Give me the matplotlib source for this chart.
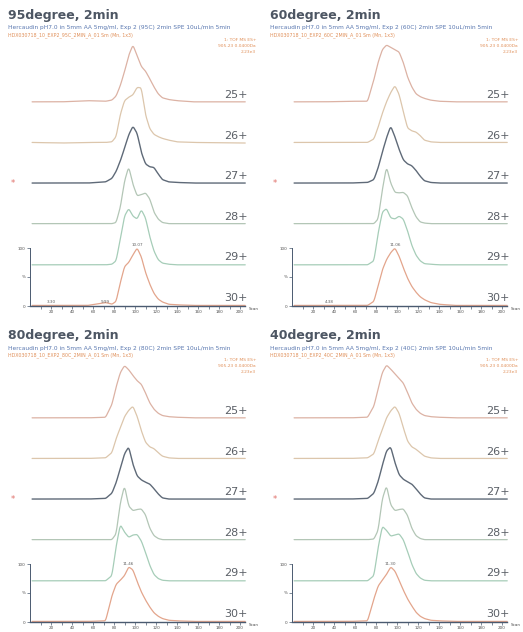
import numpy as np
import matplotlib
matplotlib.use("Agg")
import matplotlib.pyplot as plt

# ---------------- data ----------------
panel_titles = ["95degree, 2min", "60degree, 2min", "80degree, 2min", "40degree, 2min"]
charge_labels = ["25+", "26+", "27+", "28+", "29+", "30+"]
x_ticks = [20, 40, 60, 80, 100, 120, 140, 160, 180, 200]

# common scan grid for the intensity readings (percent of base peak)
scan = [2, 30, 55, 72, 78, 82, 86, 90, 94, 98, 102, 106, 110, 114, 118, 122, 126, 132, 140, 155, 205]

p95_25 = [2, 2, 4, 3, 5, 12, 30, 54, 82, 100, 82, 63, 55, 42, 28, 16, 9, 6, 4, 2, 2]
p95_26 = [2, 1, 2, 2, 3, 12, 50, 74, 80, 84, 97, 96, 50, 26, 16, 12, 9, 6, 3, 2, 1]
p95_27 = [2, 2, 2, 4, 10, 22, 40, 62, 85, 100, 88, 55, 35, 30, 29, 18, 8, 4, 3, 2, 2]
p95_28 = [2, 2, 2, 2, 2, 4, 30, 75, 100, 70, 50, 52, 55, 45, 22, 10, 4, 2, 2, 2, 2]
p95_29 = [1, 1, 1, 1, 2, 8, 45, 85, 98, 85, 80, 96, 82, 50, 25, 10, 4, 2, 1, 1, 1]
p95_30 = [1, 1, 1, 6, 3, 8, 40, 68, 75, 88, 100, 85, 58, 38, 22, 12, 7, 3, 2, 1, 1]

p60_25 = [2, 2, 3, 3, 40, 70, 92, 100, 96, 92, 88, 70, 45, 28, 16, 11, 8, 5, 3, 2, 2]
p60_26 = [2, 2, 2, 2, 8, 28, 52, 72, 88, 100, 85, 55, 27, 22, 20, 14, 6, 3, 2, 2, 2]
p60_27 = [2, 2, 2, 3, 8, 28, 55, 80, 100, 82, 60, 42, 35, 32, 24, 14, 6, 3, 2, 2, 2]
p60_28 = [2, 2, 2, 2, 2, 10, 60, 100, 72, 56, 55, 56, 50, 30, 14, 5, 3, 2, 2, 2, 2]
p60_29 = [1, 1, 1, 1, 8, 55, 92, 98, 82, 80, 85, 80, 60, 35, 18, 8, 3, 2, 1, 1, 1]
p60_30 = [1, 1, 1, 1, 8, 35, 62, 80, 92, 100, 86, 66, 48, 34, 24, 16, 11, 6, 3, 1, 1]

p80_25 = [2, 2, 2, 3, 25, 55, 80, 92, 85, 75, 66, 60, 45, 28, 17, 10, 6, 4, 3, 2, 2]
p80_26 = [2, 2, 2, 3, 12, 36, 55, 74, 85, 92, 75, 50, 30, 22, 19, 12, 6, 3, 2, 2, 2]
p80_27 = [2, 2, 2, 3, 12, 30, 55, 80, 92, 62, 42, 35, 31, 28, 20, 11, 4, 2, 2, 2, 2]
p80_28 = [2, 2, 2, 2, 2, 12, 65, 95, 60, 52, 54, 55, 45, 22, 9, 4, 2, 2, 2, 2, 2]
p80_29 = [1, 1, 1, 1, 10, 60, 98, 85, 76, 80, 81, 70, 50, 28, 12, 5, 2, 1, 1, 1, 1]
p80_30 = [1, 1, 1, 2, 45, 65, 72, 80, 95, 90, 70, 52, 38, 26, 16, 10, 6, 3, 2, 1, 1]

p40_25 = [2, 2, 2, 3, 22, 52, 80, 93, 86, 78, 70, 62, 46, 28, 17, 10, 6, 4, 3, 2, 2]
p40_26 = [2, 2, 2, 3, 10, 32, 52, 72, 84, 92, 80, 55, 32, 22, 18, 12, 6, 3, 2, 2, 2]
p40_27 = [2, 2, 2, 3, 12, 32, 60, 85, 92, 65, 44, 36, 32, 28, 20, 11, 4, 2, 2, 2, 2]
p40_28 = [2, 2, 2, 2, 3, 18, 72, 95, 62, 52, 54, 55, 44, 22, 9, 4, 2, 2, 2, 2, 2]
p40_29 = [1, 1, 1, 1, 10, 58, 95, 88, 78, 80, 82, 72, 52, 30, 14, 6, 2, 1, 1, 1, 1]
p40_30 = [1, 1, 1, 2, 40, 62, 72, 82, 95, 88, 72, 55, 40, 28, 17, 10, 6, 3, 2, 1, 1]

peak_labels = ["10.07", "11.06", "11.46", "11.30"]
minor_labels_95 = [(20, "3.30"), (72, "9.99")]
minor_labels_60 = [(36, "4.38")]

trace_colors = ["#dcb2a4", "#dcc6ac", "#5f6a78", "#b3c6b6", "#a6cdb8", "#e3a58c"]

panels = [
    [p95_25, p95_26, p95_27, p95_28, p95_29, p95_30],
    [p60_25, p60_26, p60_27, p60_28, p60_29, p60_30],
    [p80_25, p80_26, p80_27, p80_28, p80_29, p80_30],
    [p40_25, p40_26, p40_27, p40_28, p40_29, p40_30],
]
minor_labels = [minor_labels_95, minor_labels_60, [], []]

# ---------------- layout ----------------
W, H = 523, 632
fig = plt.figure(figsize=(W / 100, H / 100), dpi=100)
fig.patch.set_facecolor("white")

X_SCALE = 1.05      # px per scan unit
Y_SCALE = 0.58      # px per percent
STEP = 70           # vertical offset between traces (percent units)
YMIN, YMAX = -6, 462
XMAX = 212

left_px = [30, 292, 30, 292]
base_px = [306, 306, 622, 622]
title_px = [16, 16, 336, 336]

fine = np.linspace(scan[0], scan[-1], 800)
kernel = np.ones(9) / 9.0

header_blue = "Hercaudin pH7.0 in 5mm AA 5mg/ml, Exp 2 ({t}C) 2min SPE 10uL/min 5min"
header_orange = "HDX030718_10_EXP2_{t}C_2MIN_A_01 Sm (Mn, 1x3)"
temps = ["95", "60", "80", "40"]

for i in range(4):
    L = left_px[i]
    B = base_px[i]
    ax_w = XMAX * X_SCALE
    ax_h = (YMAX - YMIN) * Y_SCALE
    bottom_px = B - YMIN * Y_SCALE
    ax = fig.add_axes([L / W, 1 - bottom_px / H, ax_w / W, ax_h / H])
    ax.set_xlim(0, XMAX)
    ax.set_ylim(YMIN, YMAX)
    ax.patch.set_alpha(0)

    for k, trace in enumerate(panels[i]):
        offset = (5 - k) * STEP
        y = np.interp(fine, scan, trace)
        ys = np.convolve(np.pad(y, 4, mode="edge"), kernel, mode="valid")
        lw = 1.0 if k == 2 else 0.9
        ax.plot(fine, ys + offset, color=trace_colors[k], lw=lw, solid_capstyle="round")
        ax.text(207, offset + 5, charge_labels[k], ha="right", va="bottom",
                fontsize=8, color="#5a5f66")

    # peak annotation on the bottom trace
    bottom_trace = panels[i][5]
    pk = int(np.argmax(bottom_trace))
    ax.text(scan[pk], bottom_trace[pk] + 2, peak_labels[i], ha="center", va="bottom",
            fontsize=3, color="#606060")
    for xm, lab in minor_labels[i]:
        ax.text(xm, 3, lab, ha="center", va="bottom", fontsize=3, color="#606060")

    # axes styling (MassLynx-like)
    for s in ["top", "right"]:
        ax.spines[s].set_visible(False)
    ax.spines["bottom"].set_position(("data", 0))
    ax.spines["bottom"].set_bounds(0, 205)
    ax.spines["left"].set_bounds(0, 100)
    ax.spines["bottom"].set_color("#4a5a70")
    ax.spines["left"].set_color("#4a5a70")
    ax.spines["bottom"].set_linewidth(1.0)
    ax.spines["left"].set_linewidth(0.7)
    ax.set_xticks(x_ticks)
    ax.set_xticklabels([str(t) for t in x_ticks], fontsize=3, color="#505050")
    ax.set_xticks(np.arange(10, 205, 10), minor=True)
    ax.tick_params(axis="x", which="both", direction="out", length=2, width=0.5,
                   color="#4a5a70", pad=1)
    ax.set_yticks([0, 50, 100])
    ax.set_yticklabels(["0", "%", "100"], fontsize=3, color="#505050")
    ax.tick_params(axis="y", direction="out", length=2, width=0.5, color="#4a5a70", pad=1)
    ax.text(208, -2, "Scan", fontsize=3, color="#505050", ha="left", va="top")

    # red marker next to the 27+ trace
    ax.text(-16, 3 * STEP + 2, "*", fontsize=6, color="#e0706a", ha="center",
            va="center", clip_on=False)

    # headers
    tx = (L - 22) / W
    fig.text(tx, 1 - title_px[i] / H, panel_titles[i], fontsize=9, fontweight="bold",
             color="#4d5663", va="center", ha="left")
    fig.text(tx, 1 - (title_px[i] + 12) / H, header_blue.format(t=temps[i]),
             fontsize=4.2, color="#5a78b0", va="center", ha="left")
    fig.text(tx, 1 - (title_px[i] + 19) / H, header_orange.format(t=temps[i]),
             fontsize=3.4, color="#e0905a", va="center", ha="left")
    rx = (L + 226) / W
    fig.text(rx, 1 - (title_px[i] + 24) / H, "1: TOF MS ES+", fontsize=3.2,
             color="#e0905a", va="center", ha="right")
    fig.text(rx, 1 - (title_px[i] + 30) / H, "905.23 0.0400Da", fontsize=3.2,
             color="#e0905a", va="center", ha="right")
    fig.text(rx, 1 - (title_px[i] + 36) / H, "2.23e3", fontsize=3.2,
             color="#e0905a", va="center", ha="right")

fig.savefig("out.png", dpi=100, facecolor="white")
